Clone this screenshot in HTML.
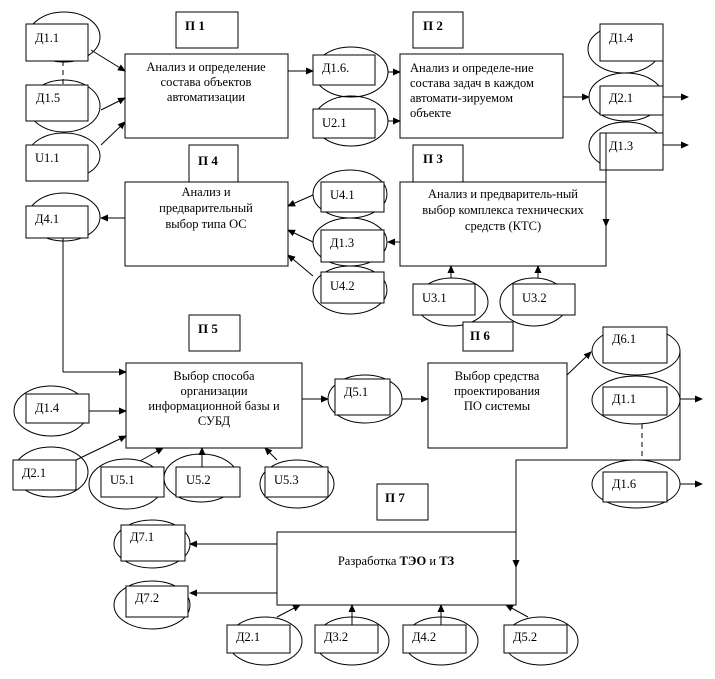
<!DOCTYPE html>
<html><head><meta charset="utf-8"><style>
html,body{margin:0;padding:0;background:#fff}
svg{display:block}
text{font-family:"Liberation Serif",serif;font-size:12.5px;fill:#000}
.b{font-weight:bold;font-size:13px}
</style></head><body>
<svg width="715" height="679" viewBox="0 0 715 679" xmlns="http://www.w3.org/2000/svg">
<defs><marker id="a" markerWidth="8" markerHeight="8" refX="7" refY="4" orient="auto" markerUnits="userSpaceOnUse"><path d="M0,0.5 L8,4 L0,7.5z" fill="#000"/></marker></defs>
<g fill="none" stroke="#000" stroke-width="1">
<ellipse cx="64" cy="37" rx="36" ry="25"/>
<ellipse cx="64" cy="106" rx="36" ry="26"/>
<ellipse cx="64" cy="156" rx="36" ry="23"/>
<ellipse cx="64" cy="217" rx="36" ry="24"/>
<ellipse cx="351" cy="72" rx="37" ry="25"/>
<ellipse cx="351" cy="121" rx="37" ry="25"/>
<ellipse cx="624" cy="49" rx="36" ry="24"/>
<ellipse cx="626" cy="97" rx="37" ry="24"/>
<ellipse cx="626" cy="146" rx="37" ry="24"/>
<ellipse cx="350" cy="194" rx="37" ry="24"/>
<ellipse cx="350" cy="242" rx="37" ry="24"/>
<ellipse cx="350" cy="290" rx="37" ry="24"/>
<ellipse cx="452" cy="302" rx="36" ry="24"/>
<ellipse cx="534" cy="302" rx="34" ry="24"/>
<ellipse cx="51" cy="411" rx="37" ry="25"/>
<ellipse cx="51" cy="472" rx="37" ry="25"/>
<ellipse cx="126" cy="484" rx="37" ry="25"/>
<ellipse cx="201" cy="478" rx="37" ry="24"/>
<ellipse cx="297" cy="484" rx="37" ry="24"/>
<ellipse cx="365" cy="399" rx="37" ry="24"/>
<ellipse cx="636" cy="351" rx="44" ry="24"/>
<ellipse cx="636" cy="400" rx="44" ry="24"/>
<ellipse cx="636" cy="484" rx="44" ry="24"/>
<ellipse cx="152" cy="544" rx="38" ry="24"/>
<ellipse cx="152" cy="605" rx="38" ry="24"/>
<ellipse cx="265" cy="641" rx="37" ry="24"/>
<ellipse cx="352" cy="641" rx="37" ry="24"/>
<ellipse cx="441" cy="641" rx="37" ry="24"/>
<ellipse cx="541" cy="641" rx="37" ry="24"/>
</g>
<g fill="#fff" stroke="#000" stroke-width="1">
<rect x="26" y="24" width="62" height="37"/>
<rect x="26" y="85" width="62" height="36"/>
<rect x="26" y="145" width="62" height="36"/>
<rect x="26" y="206" width="62" height="32"/>
<rect x="176" y="12" width="62" height="36"/>
<rect x="125" y="54" width="163" height="84"/>
<rect x="189" y="145" width="49" height="37"/>
<rect x="125" y="182" width="163" height="84"/>
<rect x="313" y="55" width="62" height="30"/>
<rect x="313" y="109" width="62" height="29"/>
<rect x="413" y="12" width="50" height="36"/>
<rect x="400" y="54" width="163" height="84"/>
<rect x="600" y="24" width="63" height="37"/>
<rect x="600" y="86" width="63" height="29"/>
<rect x="600" y="133" width="63" height="37"/>
<rect x="413" y="145" width="50" height="37"/>
<rect x="400" y="182" width="206" height="84"/>
<rect x="321" y="182" width="63" height="30"/>
<rect x="321" y="230" width="63" height="32"/>
<rect x="321" y="272" width="63" height="31"/>
<rect x="413" y="284" width="62" height="31"/>
<rect x="513" y="284" width="62" height="31"/>
<rect x="463" y="322" width="50" height="29"/>
<rect x="189" y="315" width="51" height="36"/>
<rect x="126" y="363" width="176" height="85"/>
<rect x="26" y="394" width="63" height="29"/>
<rect x="13" y="460" width="63" height="30"/>
<rect x="101" y="467" width="63" height="30"/>
<rect x="176" y="467" width="64" height="30"/>
<rect x="265" y="467" width="63" height="30"/>
<rect x="335" y="379" width="55" height="36"/>
<rect x="428" y="363" width="139" height="85"/>
<rect x="603" y="327" width="64" height="36"/>
<rect x="603" y="387" width="64" height="28"/>
<rect x="603" y="472" width="64" height="30"/>
<rect x="377" y="484" width="51" height="36"/>
<rect x="277" y="532" width="239" height="73"/>
<rect x="121" y="525" width="64" height="36"/>
<rect x="126" y="586" width="62" height="31"/>
<rect x="227" y="625" width="63" height="28"/>
<rect x="315" y="625" width="63" height="28"/>
<rect x="403" y="625" width="63" height="28"/>
<rect x="504" y="625" width="63" height="28"/>
</g>
<g fill="none" stroke="#000" stroke-width="1">
<line x1="63" y1="61" x2="63" y2="85" stroke-dasharray="5,4"/>
<line x1="642" y1="424" x2="642" y2="458" stroke-dasharray="5,4"/>
<line x1="663" y1="24" x2="663" y2="170"/>
<line x1="606" y1="133" x2="606" y2="182"/>
<line x1="680" y1="352" x2="680" y2="460"/>
<polyline points="680,460 516,460 516,532"/>
<polyline points="63,238 63,372"/>
</g>
<g stroke="#000" stroke-width="1" marker-end="url(#a)">
<line x1="91" y1="50" x2="125" y2="71"/>
<line x1="101" y1="110" x2="125" y2="98"/>
<line x1="101" y1="145" x2="125" y2="122"/>
<line x1="288" y1="71" x2="313" y2="71"/>
<line x1="125" y1="218" x2="101" y2="218"/>
<line x1="388" y1="72" x2="400" y2="72"/>
<line x1="388" y1="121" x2="400" y2="121"/>
<line x1="563" y1="97" x2="589" y2="97"/>
<line x1="663" y1="97" x2="688" y2="97"/>
<line x1="663" y1="145" x2="688" y2="145"/>
<line x1="606" y1="182" x2="606" y2="226"/>
<line x1="313" y1="195" x2="288" y2="206"/>
<line x1="313" y1="242" x2="288" y2="230"/>
<line x1="313" y1="276" x2="288" y2="255"/>
<line x1="400" y1="242" x2="388" y2="242"/>
<line x1="451" y1="278" x2="451" y2="266"/>
<line x1="538" y1="278" x2="538" y2="266"/>
<polyline fill="none" points="63,372 126,372"/>
<line x1="89" y1="411" x2="126" y2="411"/>
<line x1="76" y1="460" x2="126" y2="436"/>
<line x1="140" y1="461" x2="163" y2="448"/>
<line x1="202" y1="467" x2="202" y2="448"/>
<line x1="277" y1="460" x2="265" y2="448"/>
<line x1="302" y1="399" x2="328" y2="399"/>
<line x1="402" y1="399" x2="428" y2="399"/>
<line x1="567" y1="375" x2="591" y2="352"/>
<line x1="680" y1="399" x2="702" y2="399"/>
<line x1="680" y1="484" x2="702" y2="484"/>
<line x1="516" y1="532" x2="516" y2="567"/>
<line x1="277" y1="544" x2="190" y2="544"/>
<line x1="277" y1="593" x2="190" y2="593"/>
<line x1="277" y1="617" x2="300" y2="605"/>
<line x1="352" y1="625" x2="352" y2="605"/>
<line x1="441" y1="625" x2="441" y2="605"/>
<line x1="528" y1="617" x2="506" y2="605"/>
</g>
<g>
<text x="35" y="42">Д1.1</text>
<text x="36" y="102">Д1.5</text>
<text x="35" y="162">U1.1</text>
<text x="35" y="223">Д4.1</text>
<text class="b" x="185" y="30">П 1</text>
<text class="b" x="198" y="165">П 4</text>
<text class="b" x="423" y="30">П 2</text>
<text class="b" x="423" y="163">П 3</text>
<text class="b" x="470" y="340">П 6</text>
<text class="b" x="198" y="333">П 5</text>
<text class="b" x="385" y="502">П 7</text>
<text x="206" y="71" text-anchor="middle">Анализ и определение</text>
<text x="206" y="86" text-anchor="middle">состава объектов</text>
<text x="206" y="101" text-anchor="middle">автоматизации</text>
<text x="206" y="196" text-anchor="middle">Анализ и</text>
<text x="206" y="212" text-anchor="middle">предварительный</text>
<text x="206" y="228" text-anchor="middle">выбор типа ОС</text>
<text x="322" y="72">Д1.6.</text>
<text x="322" y="127">U2.1</text>
<text x="410" y="72">Анализ и определе-ние</text>
<text x="410" y="87">состава задач в каждом</text>
<text x="410" y="102">автомати-зируемом</text>
<text x="410" y="117">объекте</text>
<text x="609" y="42">Д1.4</text>
<text x="609" y="102">Д2.1</text>
<text x="609" y="150">Д1.3</text>
<text x="503" y="198" text-anchor="middle">Анализ и предваритель-ный</text>
<text x="503" y="214" text-anchor="middle">выбор комплекса технических</text>
<text x="503" y="230" text-anchor="middle">средств (КТС)</text>
<text x="330" y="199">U4.1</text>
<text x="330" y="247">Д1.3</text>
<text x="330" y="290">U4.2</text>
<text x="422" y="302">U3.1</text>
<text x="522" y="302">U3.2</text>
<text x="214" y="380" text-anchor="middle">Выбор способа</text>
<text x="214" y="395" text-anchor="middle">организации</text>
<text x="214" y="410" text-anchor="middle">информационной базы и</text>
<text x="214" y="425" text-anchor="middle">СУБД</text>
<text x="35" y="412">Д1.4</text>
<text x="22" y="477">Д2.1</text>
<text x="110" y="484">U5.1</text>
<text x="186" y="484">U5.2</text>
<text x="274" y="484">U5.3</text>
<text x="344" y="396">Д5.1</text>
<text x="497" y="380" text-anchor="middle">Выбор средства</text>
<text x="497" y="395" text-anchor="middle">проектирования</text>
<text x="497" y="410" text-anchor="middle">ПО системы</text>
<text x="612" y="343">Д6.1</text>
<text x="612" y="403">Д1.1</text>
<text x="612" y="488">Д1.6</text>
<text x="396" y="565" text-anchor="middle">Разработка <tspan font-weight="bold">ТЭО</tspan> и <tspan font-weight="bold">ТЗ</tspan></text>
<text x="130" y="541">Д7.1</text>
<text x="135" y="602">Д7.2</text>
<text x="236" y="641">Д2.1</text>
<text x="324" y="641">Д3.2</text>
<text x="412" y="641">Д4.2</text>
<text x="513" y="641">Д5.2</text>
</g>
</svg>
</body></html>
